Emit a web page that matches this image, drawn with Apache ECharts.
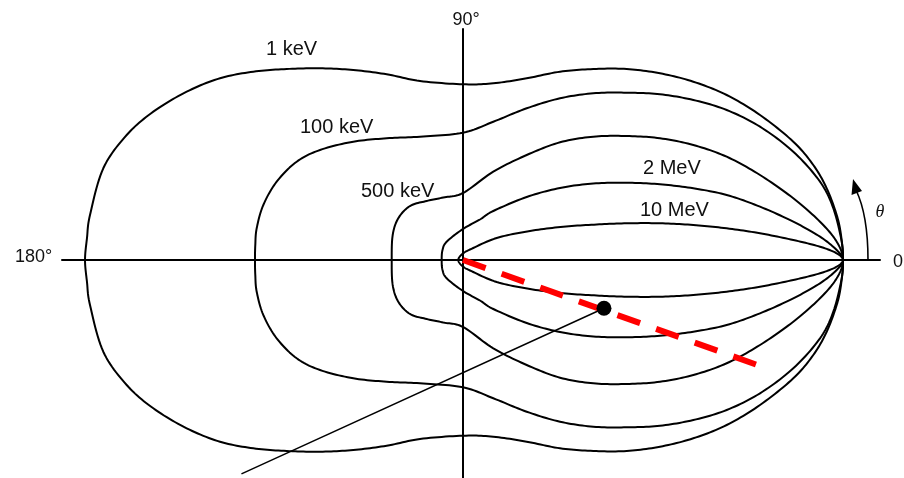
<!DOCTYPE html>
<html><head><meta charset="utf-8">
<script src="https://cdn.jsdelivr.net/npm/echarts@6/dist/echarts.min.js"></script>
<style>html,body{margin:0;padding:0;background:#fff}#c{width:904px;height:478px}</style>
</head><body><div id="c"></div>
<script>
// Relative intensity contours (upper half, from theta = 0 to 180 deg), unit = intensity at 0 deg
const energies = ['1 keV', '100 keV', '500 keV', '2 MeV', '10 MeV'];
const curve1keV = [[1,0],[0.9947,0.0658],[0.9834,0.1184],[0.9571,0.1887],[0.9218,0.25],[0.8692,0.3113],[0.7816,0.3816],[0.6939,0.4342],[0.6061,0.4692],[0.5184,0.4913],[0.4308,0.5026],[0.3429,0.5026],[0.2553,0.4955],[0.1676,0.4782],[0.0797,0.465],[0,0.4624],[-0.1132,0.4711],[-0.2008,0.4887],[-0.2887,0.5],[-0.3763,0.5045],[-0.4639,0.5026],[-0.5518,0.4955],[-0.6395,0.4782],[-0.7271,0.4429],[-0.815,0.3903],[-0.885,0.3289],[-0.9466,0.2413],[-0.9816,0.1184],[-0.9895,0.0579],[-0.9947,0]];
const curve100keV = [[1,0],[0.9966,0.0482],[0.9745,0.1361],[0.9395,0.2061],[0.8692,0.285],[0.7816,0.3508],[0.6939,0.3947],[0.6061,0.4211],[0.5184,0.4361],[0.4308,0.4403],[0.3429,0.4387],[0.2553,0.4255],[0.1676,0.3992],[0.0797,0.3639],[0,0.335],[-0.1132,0.3245],[-0.2008,0.3203],[-0.2887,0.3113],[-0.3763,0.2895],[-0.4376,0.2587],[-0.4903,0.2061],[-0.5255,0.1447],[-0.5429,0.0834],[-0.5466,0.0395],[-0.5474,0]];
const curve500keV = [[1,0],[0.9834,0.0482],[0.9395,0.1008],[0.8692,0.1624],[0.7816,0.2237],[0.6939,0.2718],[0.6061,0.3026],[0.5184,0.3203],[0.4308,0.3263],[0.3429,0.3245],[0.2553,0.3097],[0.1676,0.2763],[0.0797,0.2324],[0,0.1763],[-0.0518,0.1645],[-0.0955,0.1553],[-0.1395,0.1421],[-0.1703,0.1097],[-0.185,0.0658],[-0.1876,0]];
const curve2MeV = [[1,0],[0.9834,0.0263],[0.9395,0.0613],[0.8692,0.1008],[0.7816,0.1403],[0.6939,0.1711],[0.6061,0.1887],[0.5184,0.1992],[0.4308,0.2034],[0.3429,0.2013],[0.2553,0.1895],[0.1676,0.1658],[0.0797,0.1289],[0.0447,0.1066],[0,0.0816],[-0.0429,0.0482],[-0.0539,0.0263],[-0.0561,0]];
const curve10MeV = [[1,0],[0.9834,0.0176],[0.9395,0.035],[0.8692,0.0526],[0.7816,0.0703],[0.6939,0.0834],[0.6061,0.0921],[0.5184,0.0966],[0.4308,0.0966],[0.3518,0.0934],[0.2639,0.0876],[0.1763,0.0763],[0.0887,0.0579],[0.0184,0.0276],[0,0.0171],[-0.0092,0.0079],[-0.0124,0]];
const curves = [curve1keV, curve100keV, curve500keV, curve2MeV, curve10MeV];
const redDashLine = [[0,0],[0.774,-0.276]];
const markedPoint = [[0.371,-0.127]];
const pointerLine = [[0.371,-0.127],[-0.583,-0.563]];

// layout (pixels)
const OX = 463, OY = 260, R = 380;
const gridL = 62, gridR = 880, gridT = 29, gridB = 478;

// full closed contour: upper half (0 -> 180 deg), then its mirror image back towards 0 deg
function closedLoop(c) {
  const lower = c.slice(1, -1).reverse().map(function (p) { return [p[0], -p[1]]; });
  return c.concat(lower);
}

// closed Catmull-Rom spline through screen points
function splinePoints(pts) {
  const n = pts.length, out = [], steps = 12;
  for (let i = 0; i < n; i++) {
    const p0 = pts[(i - 1 + n) % n], p1 = pts[i], p2 = pts[(i + 1) % n], p3 = pts[(i + 2) % n];
    const c1 = [p1[0] + (p2[0] - p0[0]) / 6, p1[1] + (p2[1] - p0[1]) / 6];
    const c2 = [p2[0] - (p3[0] - p1[0]) / 6, p2[1] - (p3[1] - p1[1]) / 6];
    for (let s = 0; s < steps; s++) {
      const t = s / steps, u = 1 - t;
      out.push([
        u*u*u*p1[0] + 3*u*u*t*c1[0] + 3*u*t*t*c2[0] + t*t*t*p2[0],
        u*u*u*p1[1] + 3*u*u*t*c1[1] + 3*u*t*t*c2[1] + t*t*t*p2[1]
      ]);
    }
  }
  out.push(out[0]);
  return out;
}

const series = [];
curves.forEach(function (c, i) {
  const loop = closedLoop(c);
  series.push({
    type: 'custom', name: energies[i], coordinateSystem: 'cartesian2d', data: loop, z: 3, silent: true,
    renderItem: function (params, api) {
      if (params.dataIndex !== 0) return null;
      const screen = loop.map(function (p) { return api.coord(p); });
      return { type: 'polyline', shape: { points: splinePoints(screen) },
        style: { stroke: '#000', lineWidth: 2, fill: 'none', lineJoin: 'round' } };
    }
  });
});
series.push({ type: 'line', data: pointerLine, symbol: 'none', lineStyle: { color: '#000', width: 1.5 }, z: 4 });
series.push({ type: 'line', data: redDashLine, symbol: 'none',
  lineStyle: { color: '#ff0000', width: 6, type: [24, 17], cap: 'butt' }, z: 5 });
series.push({ type: 'scatter', data: markedPoint, symbol: 'circle', symbolSize: 15,
  itemStyle: { color: '#000', opacity: 1 }, z: 6 });

const F = '"Liberation Sans", Arial, sans-serif';
function txt(t, x, y, size, align, font) {
  return { type: 'text', x: x, y: y, z: 10, style: { text: t, font: (font || (size + 'px ' + F)), fill: '#111',
    textAlign: align || 'left', textVerticalAlign: 'middle' } };
}

const chart = echarts.init(document.getElementById('c'), null, { renderer: 'canvas' });
chart.setOption({
  animation: false,
  backgroundColor: '#fff',
  grid: { left: gridL, right: 904 - gridR, top: gridT, bottom: 478 - gridB },
  xAxis: { type: 'value', min: (gridL - OX) / R, max: (gridR - OX) / R,
    axisLine: { show: true, onZero: true, lineStyle: { color: '#000', width: 2 } },
    axisTick: { show: false }, axisLabel: { show: false }, splitLine: { show: false } },
  yAxis: { type: 'value', min: (OY - gridB) / R, max: (OY - gridT) / R,
    axisLine: { show: true, onZero: true, lineStyle: { color: '#000', width: 2 } },
    axisTick: { show: false }, axisLabel: { show: false }, splitLine: { show: false } },
  series: series,
  graphic: [
    txt('90°', 466, 20, 18, 'center'),
    txt('180°', 15, 257, 18, 'left'),
    txt('0', 893, 262, 18, 'left'),
    txt(energies[0], 266, 49, 20),
    txt(energies[1], 300, 127, 20),
    txt(energies[2], 361, 191, 20),
    txt(energies[3], 643, 168, 20),
    txt(energies[4], 640, 210, 20),
    txt('θ', 880, 212, 18, 'center', 'italic 18px "Liberation Serif", serif'),
    { type: 'bezierCurve', z: 10, shape: { x1: 868, y1: 260, cpx1: 868, cpy1: 215, x2: 856, y2: 190 },
      style: { stroke: '#000', lineWidth: 1.6, fill: null } },
    { type: 'polygon', z: 10, shape: { points: [[853, 179], [851.5, 195], [862, 191]] }, style: { fill: '#000' } }
  ]
});
</script></body></html>
